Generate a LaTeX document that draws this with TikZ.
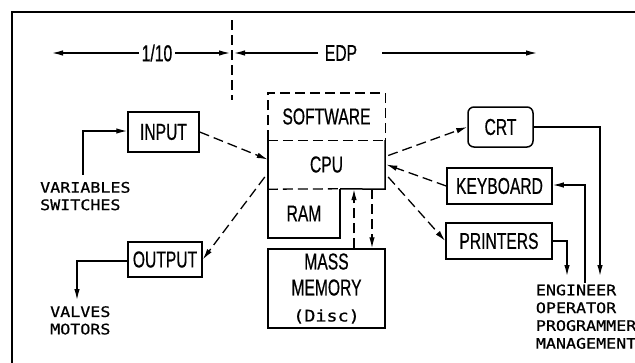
\documentclass[tikz,border=0pt]{standalone}
\usepackage{fontspec}
\usetikzlibrary{arrows.meta,calc}
\newfontfamily\boxfont[FakeStretch=0.68,FakeBold=0.6]{Liberation Sans}
\newfontfamily\tagfont[FakeStretch=1.15,FakeBold=0.8]{DejaVu Sans Mono}

\tikzset{
  unit/.style={draw, line width=1.5pt, inner sep=0pt, align=center,
    font=\boxfont\fontsize{23}{26}\selectfont},
  area/.style={inner sep=0pt, align=center,
    font=\boxfont\fontsize{23}{26}\selectfont},
  tag/.style={inner sep=0pt, anchor=north west, align=left,
    font=\tagfont\fontsize{14.5}{17.4}\selectfont},
  wire/.style={line width=1.3pt},
  dline/.style={line width=1.3pt, dash pattern=on 10pt off 5pt},
  tip/.style={-{Latex[length=11pt,width=5.5pt]}},
  tipin/.style={{Latex[length=11pt,width=5.5pt]}-},
}

\begin{document}
\begin{tikzpicture}[x=1pt,y=-1pt]
\clip (0,0) rectangle (635,362);

% frame
\draw[line width=1.5pt] (12,400) -- (12,12) -- (700,12);

% scale bar along the top
\node[area] (t110) at (157,53) {1/10};
\node[area] (tedp) at (341,53) {EDP};
\coordinate (barL) at (52,53);
\coordinate (barM) at (232,53);
\coordinate (barR) at (537,53);
\coordinate (edpL) at (318,53);
\coordinate (edpR) at (382,53);
\coordinate (splitT) at (232,20);
\coordinate (splitB) at (232,100);
\draw[wire,tip] ($(t110.west)+(-3,0)$) -- (barL);
\draw[wire,tip] ($(t110.east)+(3,0)$) -- ($(barM)+(-2,0)$);
\draw[wire,tip] (edpL) -- ($(barM)+(2,0)$);
\draw[wire,tip] (edpR) -- (barR);
\draw[dline] (splitT) -- (splitB);

% processor block
\node[area, minimum width=117pt, minimum height=47pt] (sw) at (326.5,116.5) {SOFTWARE};
\node[area, minimum width=117pt, minimum height=49pt] (cpu) at (326.5,164.5) {CPU};
\node[area, minimum width=72pt, minimum height=49pt] (ram) at (304,213.5) {RAM};
\node[unit, minimum width=117pt, minimum height=79pt] (mass) at (326.5,288.5)
  {MASS\\MEMORY\\{\tagfont\fontsize{16}{26}\selectfont(Disc)}};

\draw[line width=1.4pt, dash pattern=on 10pt off 5pt] (sw.south west) -- (sw.north west) -- (sw.north east) -- (sw.south east);
\draw[line width=1.3pt, dash pattern=on 10pt off 5pt] (sw.south west) -- (sw.south east);
\draw[line width=1.5pt] (sw.south east) -- (cpu.south east) -- (ram.north east);
\draw[line width=1.3pt, dash pattern=on 10pt off 5pt] (cpu.south west) -- (ram.north east);
\draw[line width=1.5pt] (sw.south west) -- (ram.south west) -- (ram.south east) -- (ram.north east);

% transfers between processor and disc
\draw[dline,tip] (354,0 |- mass.north) -- (354,0 |- cpu.south);
\draw[dline,tip] (372,0 |- cpu.south) -- (372,0 |- mass.north);

% process input / output
\node[unit, minimum width=71pt, minimum height=40pt] (input) at (163.5,132) {INPUT};
\node[unit, minimum width=74pt, minimum height=35pt] (output) at (165,259.5) {OUTPUT};
\node[tag] (vars) at (40,181.7) {VARIABLES\\SWITCHES};
\node[tag] (valves) at (50,306) {VALVES\\MOTORS};
\coordinate (inCorner) at (83,131);
\coordinate (outCorner) at (77,261);
\draw[wire,tip] (83,0 |- vars.north) ++(0,-7) -- (inCorner) -- (input.west |- inCorner);
\draw[wire,tip] (output.west |- outCorner) -- (outCorner) -- (77,300);
\draw[dline,tip] (input.east) -- ($(cpu.west)+(0,-5)$);
\draw[dline,tip] ($(cpu.west)+(-3,12.5)$) -- (output.east);

% peripherals
\node[unit, rounded corners=6pt, minimum width=65pt, minimum height=40pt] (crt) at (500.5,127) {CRT};
\node[unit, minimum width=105pt, minimum height=36pt] (kbd) at (499.5,186) {KEYBOARD};
\node[unit, minimum width=106pt, minimum height=36pt] (prn) at (499,241) {PRINTERS};
\draw[dline,tip] ($(cpu.east)+(3,-9)$) -- (crt.west);
\draw[dline,tip] (kbd.west) -- ($(cpu.east)+(1,0)$);
\draw[dline,tip] ($(cpu.east)+(3,12.5)$) -- (prn.west);

% users
\node[tag, font=\tagfont\fontsize{14.5}{17.8}\selectfont] (users) at (535.7,284.3)
  {ENGINEER\\OPERATOR\\PROGRAMMER\\MANAGEMENT};
\coordinate (crtCorner) at (600,127);
\coordinate (kbdCorner) at (585,185);
\coordinate (prnCorner) at (567,241);
\draw[wire,tip] (crt.east) -- (crtCorner) -- (600,276);
\draw[wire,tipin] (kbd.east |- kbdCorner) -- (kbdCorner) -- (585,283);
\draw[wire,tip] (prn.east) -- (prnCorner) -- (567,276);
\end{tikzpicture}
\end{document}
